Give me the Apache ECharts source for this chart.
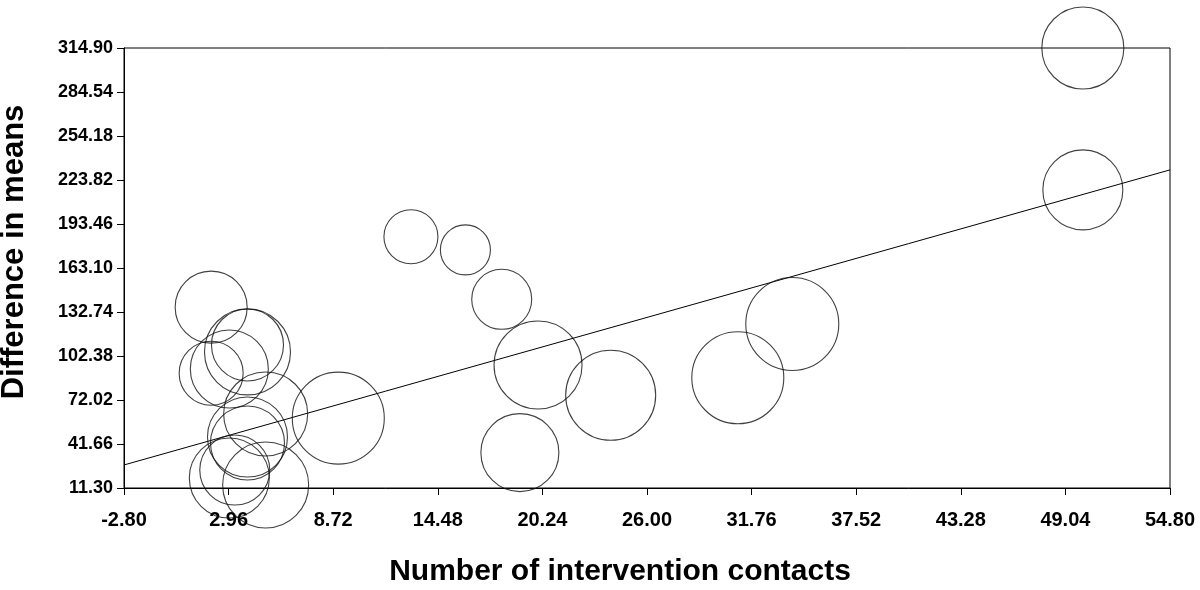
<!DOCTYPE html>
<html>
<head>
<meta charset="utf-8">
<script src="https://cdn.jsdelivr.net/npm/echarts@6/dist/echarts.min.js"></script>
<style>
  html, body { margin: 0; padding: 0; background: #fff; }
  #chart { width: 1200px; height: 590px; }
</style>
</head>
<body>
<div id="chart"></div>
<script>
// Number of intervention contacts (x) per study
const contacts = [50, 50, 34, 31, 24, 20, 19, 18, 16, 13, 9, 2, 4, 4, 2, 3, 5, 4, 4, 3, 5, 3.3];
// Difference in means (y) per study
const diffMeans = [314.9, 217.0, 124.5, 87.4, 75.3, 96.2, 35.7, 141.5, 175.6, 184.7, 59.5, 136.1, 110.0, 105.2, 90.5, 93.4, 62.4, 46.5, 42.4, 18.2, 13.4, 23.7];
// Relative study weights (bubble size)
const studyWeights = [41, 40, 46.5, 46, 45, 44, 39, 30, 25, 27, 46, 36, 36, 43, 32, 39, 42, 40, 37, 40, 43, 35];
// Regression line end points
const regX = [-2.80, 54.80];
const regY = [27.2, 230.8];
// Axis tick settings
const xTicks = { min: -2.80, max: 54.80, step: 5.76 };
const yTicks = { min: 11.30, max: 314.90, step: 30.36 };

const bubbles = contacts.map((c, i) => [c, diffMeans[i], studyWeights[i]]);
const regLine = regX.map((x, i) => [x, regY[i]]);

const chart = echarts.init(document.getElementById('chart'), null, { renderer: 'canvas' });
const option = {
  backgroundColor: '#ffffff',
  animation: false,
  grid: {
    left: 124, right: 30, top: 48, bottom: 102,
    show: true, borderColor: '#000', borderWidth: 1, backgroundColor: 'transparent'
  },
  xAxis: {
    type: 'value',
    min: xTicks.min, max: xTicks.max, interval: xTicks.step,
    axisLine: { show: true, onZero: false, lineStyle: { color: '#000', width: 1 } },
    axisTick: { show: true, length: 7, lineStyle: { color: '#000' } },
    splitLine: { show: false },
    axisLabel: {
      margin: 22,
      color: '#000',
      fontFamily: '"Liberation Sans", Arial, sans-serif',
      fontWeight: 'bold',
      fontSize: 20,
      formatter: v => v.toFixed(2)
    }
  },
  yAxis: {
    type: 'value',
    min: yTicks.min, max: yTicks.max, interval: yTicks.step,
    axisLine: { show: true, onZero: false, lineStyle: { color: '#000', width: 1 } },
    axisTick: { show: true, length: 7, lineStyle: { color: '#000' } },
    splitLine: { show: false },
    axisLabel: {
      margin: 11,
      color: '#000',
      fontFamily: '"Liberation Sans", Arial, sans-serif',
      fontWeight: 'bold',
      fontSize: 18,
      formatter: v => v.toFixed(2)
    }
  },
  series: [
    {
      type: 'line',
      data: regLine,
      symbol: 'none',
      lineStyle: { color: '#000', width: 1 },
      z: 3
    },
    {
      type: 'scatter',
      data: bubbles,
      clip: false,
      symbol: 'circle',
      symbolSize: d => d[2] * 2,
      itemStyle: { color: 'rgba(0,0,0,0)', borderColor: '#111', borderWidth: 1.1 },
      z: 4
    }
  ],
  graphic: [
    {
      type: 'text',
      x: 620, y: 572,
      style: {
        text: 'Number of intervention contacts',
        fill: '#000',
        font: 'bold 30px "Liberation Sans", Arial, sans-serif',
        align: 'center', verticalAlign: 'middle'
      }
    },
    {
      type: 'text',
      x: 14, y: 252,
      rotation: Math.PI / 2,
      style: {
        text: 'Difference in means',
        fill: '#000',
        font: 'bold 31px "Liberation Sans", Arial, sans-serif',
        align: 'center', verticalAlign: 'middle'
      }
    }
  ]
};
chart.setOption(option);
</script>
</body>
</html>
